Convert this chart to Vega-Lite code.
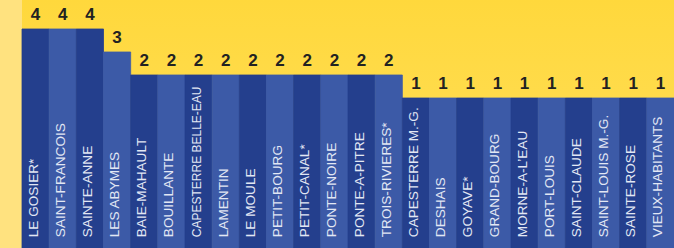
{
  "$schema": "https://vega.github.io/schema/vega-lite/v6.json",
  "width": 652,
  "height": 248,
  "autosize": {"type": "none"},
  "padding": {"left": 22, "top": 0, "right": 0, "bottom": 0},
  "background": "#FFE27F",
  "config": {
    "view": {"stroke": null, "fill": {"gradient": "linear", "x1": 0, "y1": 0, "x2": 0, "y2": 1, "stops": [{"offset": 0, "color": "#FFD83C"}, {"offset": 1, "color": "#FFE060"}]}},
    "font": "Liberation Sans"
  },
  "data": {
    "values": [
      {"commune": "LE GOSIER*", "n": 4},
      {"commune": "SAINT-FRANCOIS", "n": 4},
      {"commune": "SAINTE-ANNE", "n": 4},
      {"commune": "LES ABYMES", "n": 3},
      {"commune": "BAIE-MAHAULT", "n": 2},
      {"commune": "BOUILLANTE", "n": 2},
      {"commune": "CAPESTERRE BELLE-EAU", "n": 2},
      {"commune": "LAMENTIN", "n": 2},
      {"commune": "LE MOULE", "n": 2},
      {"commune": "PETIT-BOURG", "n": 2},
      {"commune": "PETIT-CANAL*", "n": 2},
      {"commune": "PONTE-NOIRE", "n": 2},
      {"commune": "PONTE-A-PITRE", "n": 2},
      {"commune": "TROIS-RIVIERES*", "n": 2},
      {"commune": "CAPESTERRE M.-G.", "n": 1},
      {"commune": "DESHAIS", "n": 1},
      {"commune": "GOYAVE*", "n": 1},
      {"commune": "GRAND-BOURG", "n": 1},
      {"commune": "MORNE-A-L’EAU", "n": 1},
      {"commune": "PORT-LOUIS", "n": 1},
      {"commune": "SAINT-CLAUDE", "n": 1},
      {"commune": "SAINT-LOUIS M.-G.", "n": 1},
      {"commune": "SAINTE-ROSE", "n": 1},
      {"commune": "VIEUX-HABITANTS", "n": 1}
    ]
  },
  "encoding": {
    "x": {"field": "commune", "type": "nominal", "sort": null, "axis": null, "scale": {"paddingInner": 0, "paddingOuter": 0}}
  },
  "layer": [
    {
      "mark": {"type": "bar", "strokeWidth": 0.8},
      "encoding": {
        "y": {"field": "n", "type": "quantitative", "axis": null, "scale": {"domain": [-5.52, 5.26], "zero": false, "nice": false}},
        "y2": {"datum": -5.52},
        "color": {"field": "commune", "type": "nominal", "sort": null, "legend": null, "scale": {"range": ["#243F8D", "#3C5AA7"]}},
        "stroke": {"field": "commune", "type": "nominal", "sort": null, "legend": null, "scale": {"range": ["#243F8D", "#3C5AA7"]}}
      }
    },
    {
      "mark": {"type": "text", "fontSize": 17, "fontWeight": "bold", "color": "#222222", "baseline": "alphabetic", "dy": -9},
      "encoding": {
        "y": {"field": "n", "type": "quantitative"},
        "text": {"field": "n", "type": "quantitative"}
      }
    },
    {
      "mark": {"type": "text", "color": "#E2E7F4", "angle": 270, "align": "left", "baseline": "middle", "dy": -2},
      "encoding": {
        "y": {"datum": -5.05},
        "text": {"field": "commune", "type": "nominal"},
        "size": {"condition": {"test": "datum.commune === 'CAPESTERRE BELLE-EAU'", "value": 12}, "value": 13.6}
      }
    }
  ]
}
